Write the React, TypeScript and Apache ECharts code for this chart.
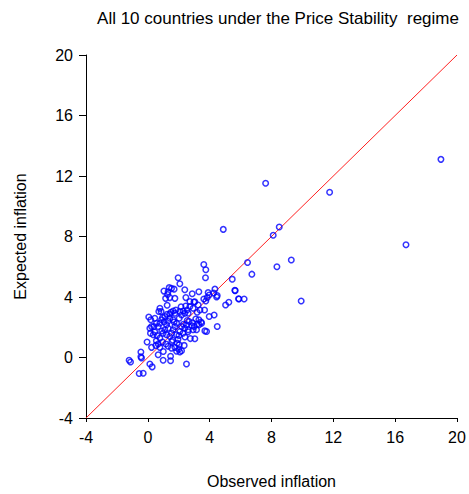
import React, { useEffect, useRef } from "react";
import * as echarts from "echarts";

const titleText = "All 10 countries under the Price Stability  regime";
const xAxisName = "Observed inflation";
const yAxisName = "Expected inflation";
const axisMin = -4;
const axisMax = 20;
const axisInterval = 4;

const observed: number[] = [
  3.62, 3.75, 3.73, 6.45, 6.73, 1.96, 2.07, 1.38, 1.53, 1.70, 1.31, 1.04, 2.39, 2.87, 3.30, 3.90, 3.97, 4.34, 4.49,
  1.15, 1.42, 1.75, 1.28, 2.46, 2.72, 2.98, 5.46, 5.63, 5.89, 6.23, 5.03, 5.24, 3.62, 3.75, 3.84,
  0.78, 0.86, 0.71, 1.49, 1.64, 1.81, 1.42, 1.75, 2.07, 2.28, 2.54, 2.39, 2.61, 2.72, 2.93, 3.04,
  3.26, 3.37, 3.19, 3.67, 3.97, 4.29, 4.49, 3.69, 3.80, 3.04, 3.30, 3.48, 3.32, 3.00, 3.15, 2.93,
  2.67, 2.50, 2.39, 2.61, 2.18, 2.07, 2.28, 2.01, 1.86, 1.75, 1.64, 1.53, 1.86,
  1.21, 1.31, 1.10, 0.99, 1.21, 1.42, 0.89, 0.78, 0.67, 0.95, 0.06, 0.45, 0.56, 0.39, 0.24, 0.13,
  0.17, 0.45, 0.60, 0.78, -0.05, 0.24, 0.52, 0.67, 0.78, 0.95, 1.17, 1.31, 1.53, 1.75, 2.03, 2.35,
  1.86, 2.07, 2.18, 1.47, 1.47, 0.99, 0.67, 2.50, -0.45, -0.45, -0.41, -1.21, -1.12, 0.13, 0.28,
  -0.56, -0.30, 0.19, 2.18, 2.03, 1.42, 1.64, 1.10, 1.25,
  7.62, 11.76, 4.88, 8.50, 8.11, 9.28, 8.35, 5.65, 5.87, 9.92, 4.26, 4.45, 18.96, 16.70,
  2.30, 2.55, 2.85, 1.95, 1.60, 1.00, 0.55, 3.10, 2.40, 1.90, 2.75, 3.45, 1.30, 0.90, 2.15,
  1.70, 2.60, 1.05, 3.20, 2.00, 0.35, 1.55, 2.90, 1.25, 2.45
];

const expected: number[] = [
  6.15, 5.80, 5.27, 6.28, 5.51, 5.27, 4.88, 4.62, 4.57, 4.52, 4.35, 4.39, 4.48, 4.22, 4.35, 4.29, 4.13, 4.52, 4.09,
  3.91, 3.96, 3.91, 4.17, 3.96, 3.70, 3.67, 5.18, 4.44, 3.87, 3.87, 3.47, 3.65, 3.87, 3.73, 3.96,
  3.25, 3.04, 3.04, 2.99, 3.08, 3.14, 2.88, 2.93, 3.04, 3.08, 3.14, 2.93, 2.93, 3.37, 3.25, 3.69,
  3.47, 3.14, 2.99, 3.14, 2.71, 2.81, 2.05, 1.76, 1.72, 1.24, 2.49, 2.27, 2.16, 2.05, 1.83, 1.83,
  2.38, 2.16, 1.94, 1.83, 2.05, 1.72, 1.61, 1.46, 2.27, 2.05, 1.83, 1.61, 1.50,
  2.16, 1.94, 1.83, 1.61, 1.50, 1.39, 2.49, 2.27, 2.05, 2.64, 2.68, 2.60, 2.27, 2.05, 2.05, 1.94,
  1.61, 1.68, 1.46, 1.28, 1.02, 0.67, 0.80, 0.89, 0.67, 1.02, 0.89, 0.74, 0.62, 0.67, 0.84, 0.80,
  0.41, 0.36, 0.45, 0.08, -0.21, -0.18, 0.18, -0.43, 0.36, 0.05, -0.03, -0.18, -0.30, -0.43, -0.62,
  -1.06, -1.04, 2.49, 2.81, 2.60, 2.60, 2.49, 2.71, 2.86,
  11.52, 10.93, 8.47, 8.63, 8.08, 6.45, 6.00, 4.42, 3.89, 3.73, 4.26, 4.00, 13.10, 7.45,
  2.20, 2.45, 2.10, 1.20, 1.15, 0.40, 1.10, 2.55, 1.35, 0.95, 1.25, 2.35, 2.40, 1.75, 3.35,
  2.35, 1.70, 2.35, 2.20, 0.55, 1.50, 1.05, 2.30, 3.45, 3.40
];

const diagonal: number[][] = [[axisMin, axisMin], [axisMax, axisMax]];

const FONT = "Liberation Sans, Arial, Helvetica, sans-serif";

export default function App() {
  const ref = useRef<HTMLDivElement>(null);
  useEffect(() => {
    if (!ref.current) return;
    const chart = echarts.init(ref.current, null, { renderer: "svg" });
    const points = observed.map((x, i) => [x, expected[i]]);
    const axisCommon = {
      type: "value" as const,
      min: axisMin,
      max: axisMax,
      interval: axisInterval,
      splitLine: { show: false },
      axisLine: { show: true, onZero: false, lineStyle: { color: "#000", width: 1 } },
      axisTick: { show: true, inside: false, length: 6, lineStyle: { color: "#000" } },
      axisLabel: { color: "#000", fontSize: 16, fontFamily: FONT },
      nameLocation: "middle" as const,
      nameTextStyle: { color: "#000", fontSize: 16, fontFamily: FONT },
    };
    chart.setOption({
      animation: false,
      backgroundColor: "#fff",
      title: {
        text: titleText,
        left: 273,
        textAlign: "center",
        top: 5,
        textStyle: { color: "#000", fontSize: 17, fontWeight: "normal", fontFamily: FONT },
      },
      grid: { left: 86, right: 12, top: 55, bottom: 74, containLabel: false },
      xAxis: {
        ...axisCommon,
        name: xAxisName,
        nameGap: 55,
        axisTick: { ...axisCommon.axisTick, length: 4 },
        axisLabel: { ...axisCommon.axisLabel, margin: 11 },
      },
      yAxis: {
        ...axisCommon,
        name: yAxisName,
        nameGap: 58,
        axisTick: { ...axisCommon.axisTick, length: 7 },
        axisLabel: { ...axisCommon.axisLabel, margin: 13 },
      },
      series: [
        {
          type: "line",
          data: diagonal,
          symbol: "none",
          lineStyle: { color: "#ff2020", width: 1 },
          z: 1,
          silent: true,
        },
        {
          type: "scatter",
          data: points,
          symbol: "circle",
          symbolSize: 5.5,
          itemStyle: { color: "rgba(255,255,255,0)", borderColor: "#0000ff", borderWidth: 1.5 },
          z: 2,
        },
      ],
    });
    return () => chart.dispose();
  }, []);
  return (
    <div
      ref={ref}
      style={{ width: 469, height: 494, position: "absolute", left: 0, top: 0 }}
    />
  );
}
